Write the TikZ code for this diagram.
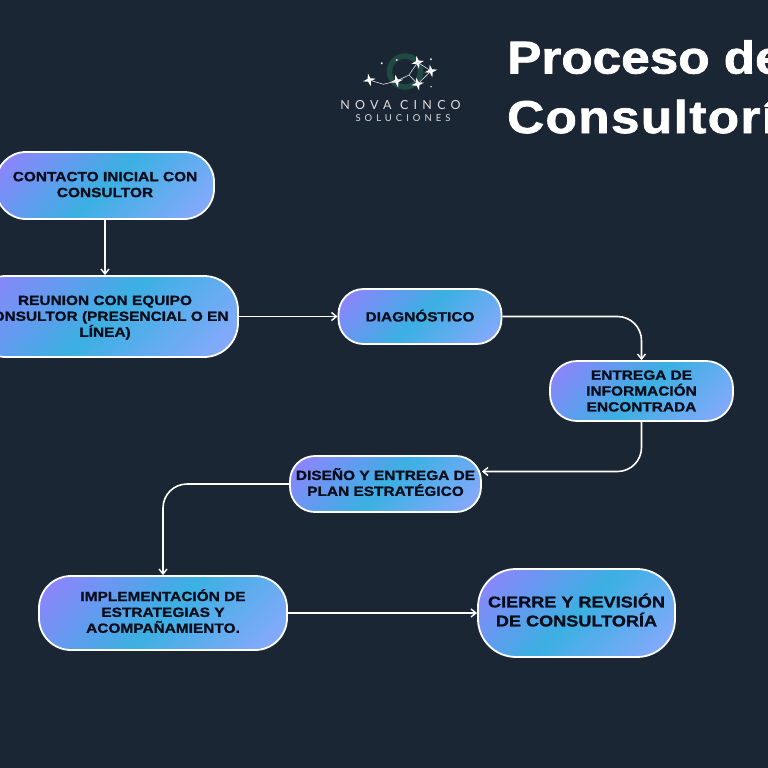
\documentclass[tikz,border=0pt]{standalone}
\usepackage{fontspec}
\usetikzlibrary{shapes.geometric,arrows.meta}
\setmainfont{Liberation Sans}
\newfontfamily\titlefont[FakeStretch=1.115,FakeBold=1.6]{Liberation Sans Bold}
\newfontfamily\titlefontb[FakeStretch=1.115,FakeBold=1.6,LetterSpace=3]{Liberation Sans Bold}
\newfontfamily\labelfont[FakeStretch=1.16,FakeBold=1.3]{Liberation Sans Bold}
\newfontfamily\logofont{Lato}
\newcommand\lifttext[1]{\rule[-#1pt]{0pt}{#1pt}}
\definecolor{bgc}{HTML}{1B2635}
\definecolor{gA}{HTML}{9580FF}
\definecolor{gB}{HTML}{3BB0E2}
\definecolor{gC}{HTML}{8FA8FF}
\definecolor{ringc}{HTML}{1E4A42}
\definecolor{inkc}{HTML}{080D1C}
\pgfdeclareverticalshading{flowgrad}{100bp}{color(0bp)=(gC); color(15bp)=(gC); color(50bp)=(gB); color(85bp)=(gA); color(100bp)=(gA)}
\tikzset{
  flowbox/.style={draw=white,line width=1.8pt,shade,shading=flowgrad,shading angle=45,align=center,inner sep=0pt,text=inkc,font=\labelfont\fontsize{13.3}{15.9}\selectfont},
  flowline/.style={draw=white,line width=1.6pt,-{Straight Barb[length=5pt,width=8pt,line width=1.4pt]}},
  bigstar/.style={star,star points=4,star point ratio=3.2,fill=white,inner sep=0pt,minimum size=13pt,rotate=12},
  tinystar/.style={circle,fill=white!85!bgc,inner sep=0pt,minimum size=2.2pt},
  logoline/.style={draw=white!85!bgc,line width=.6pt}
}
\begin{document}
\begin{tikzpicture}[x=1pt,y=-1pt]
\useasboundingbox (0,0) rectangle (768,768);
\clip (0,0) rectangle (768,768);
\fill[bgc] (0,0) rectangle (768,768);
% logo
\draw[ringc,line width=5.5pt] (405,71.5) circle (15.5pt);
\node[bigstar] (s1) at (369.3,80) {};
\node[bigstar] (s2) at (396.7,81) {};
\node[bigstar] (s3) at (417.7,84) {};
\node[bigstar] (s4) at (417.7,62.3) {};
\node[bigstar] (s5) at (431,71) {};
\coordinate (j1) at (383.5,84.3);
\coordinate (j2) at (409,75);
\draw[logoline] (s1.center) -- (j1) -- (s2.center) -- (j2) -- (s4.center) -- (s5.center) -- (s3.center) -- (j2);
\node[tinystar] (t1) at (381.7,63.3) {};
\node[tinystar] (t2) at (396.7,60) {};
\node[tinystar] (t3) at (431,59.3) {};
\node[tinystar,minimum size=1.6pt] (t4) at (431,86.7) {};
\node[text=white!85!bgc,inner sep=0pt,font=\logofont\fontsize{12.5}{13}\addfontfeature{LetterSpace=42}\selectfont] (logoa) at (400.5,105) {NOVA CINCO};
\node[text=white!85!bgc,inner sep=0pt,font=\logofont\fontsize{9.5}{10}\addfontfeature{LetterSpace=42}\selectfont] (logob) at (403,118) {SOLUCIONES};
% title
\node[anchor=base west,inner sep=0pt,text=white,font=\titlefont\fontsize{46}{46}\selectfont] (title1) at (507,73.5) {Proceso de};
\node[anchor=base west,inner sep=0pt,text=white,font=\titlefontb\fontsize{46}{46}\selectfont] (title2) at (507,133) {Consultoría};
% boxes
\node[flowbox,minimum width=218pt,minimum height=67pt,rounded corners=30pt] (n1) at (105,185.5) {CONTACTO INICIAL CON\\CONSULTOR\lifttext{2}};
\node[flowbox,minimum width=266pt,minimum height=81pt,rounded corners=34pt] (n2) at (105,316.5) {\rule{0pt}{11.5pt}REUNION CON EQUIPO\\CONSULTOR (PRESENCIAL O EN\\LÍNEA)};
\node[flowbox,minimum width=163pt,minimum height=55pt,rounded corners=25pt] (n3) at (420,316.5) {DIAGNÓSTICO\lifttext{2}};
\node[flowbox,minimum width=183pt,minimum height=60pt,rounded corners=27pt] (n4) at (641.5,391) {ENTREGA DE\\INFORMACIÓN\\ENCONTRADA};
\node[flowbox,minimum width=191pt,minimum height=56pt,rounded corners=25pt] (n5) at (385.5,484) {DISEÑO Y ENTREGA DE\\PLAN ESTRATÉGICO\lifttext{4}};
\node[flowbox,minimum width=248pt,minimum height=74pt,rounded corners=32pt] (n6) at (163,613) {IMPLEMENTACIÓN DE\\ESTRATEGIAS Y\\ACOMPAÑAMIENTO.\lifttext{4}};
\node[flowbox,minimum width=197pt,minimum height=88pt,rounded corners=38pt,font=\labelfont\fontsize{15.6}{19}\selectfont] (n7) at (576.5,613) {CIERRE Y REVISIÓN\\DE CONSULTORÍA\lifttext{6}};
% connectors
\coordinate (n5in) at ([yshift=12.5pt]n5.east);
\draw[flowline] (n1.south) -- (n2.north);
\draw[flowline] (n2.east) -- (n3.west);
\draw[flowline,rounded corners=24pt] (n3.east) -| (n4.north);
\draw[flowline,rounded corners=24pt] (n4.south) |- (n5in);
\draw[flowline,rounded corners=24pt] (n5.west) -| (n6.north);
\draw[flowline] (n6.east) -- (n7.west);
\end{tikzpicture}
\end{document}
